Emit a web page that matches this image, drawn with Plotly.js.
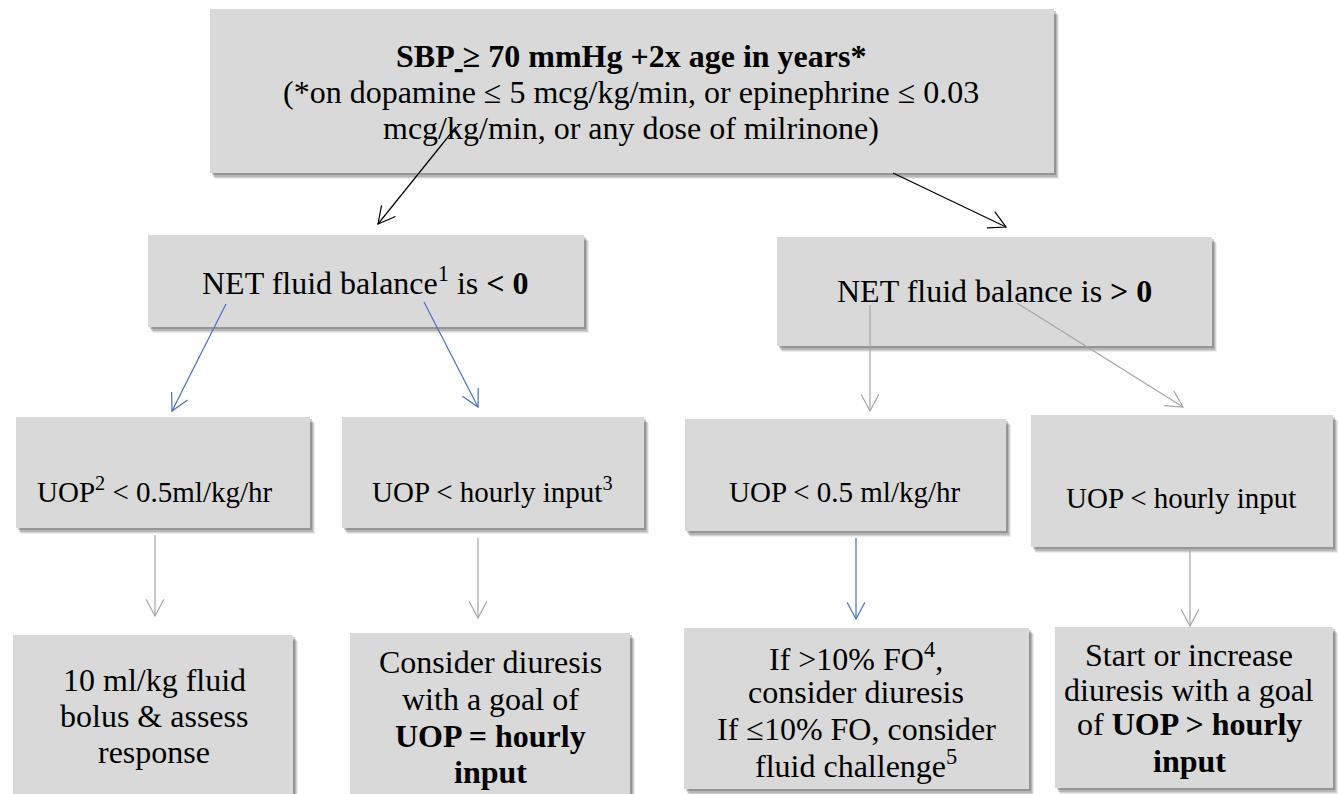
<!DOCTYPE html>
<html>
<head>
<meta charset="utf-8">
<script src="https://cdn.plot.ly/plotly-3.0.1.min.js"></script>
<style>
html,body{margin:0;padding:0;background:#ffffff;}
#chart{width:1338px;height:794px;}
</style>
</head>
<body>
<div id="chart"></div>
<script>
// ---- Flowchart content (text of each box, one entry per line) ----
const topBoxLines = [
  "<b>SBP<u>&nbsp;</u>≥ 70 mmHg +2x age in years*</b>",
  "(*on dopamine ≤ 5 mcg/kg/min, or epinephrine ≤ 0.03",
  "mcg/kg/min, or any dose of milrinone)"
];
const netNegativeLines = ["NET fluid balance<sup>1</sup> is <b>&lt; 0</b>"];
const netPositiveLines = ["NET fluid balance is <b>&gt; 0</b>"];
const uopLowNegLines = ["UOP<sup>2</sup> &lt; 0.5ml/kg/hr"];
const uopInputNegLines = ["UOP &lt; hourly input<sup>3</sup>"];
const uopLowPosLines = ["UOP &lt; 0.5 ml/kg/hr"];
const uopInputPosLines = ["UOP &lt; hourly input"];
const bolusLines = ["10 ml/kg fluid", "bolus &amp; assess", "response"];
const diuresisEqLines = ["Consider diuresis", "with a goal of", "<b>UOP = hourly</b>", "<b>input</b>"];
const foLines = ["If &gt;10% FO<sup>4</sup>,", "consider diuresis", "If ≤10% FO, consider", "fluid challenge<sup>5</sup>"];
const diuresisGtLines = ["Start or increase", "diuresis with a goal", "of <b>UOP &gt; hourly</b>", "<b>input</b>"];

// Connections: [from box, to box, colour key]
const edgeFrom = ["top", "top", "neg", "neg", "pos", "pos", "uopLowNeg", "uopInputNeg", "uopLowPos", "uopInputPos"];
const edgeTo   = ["neg", "pos", "uopLowNeg", "uopInputNeg", "uopLowPos", "uopInputPos", "bolus", "diuresisEq", "fo", "diuresisGt"];
const edgeKind = ["black", "black", "blue", "blue", "gray", "gray", "gray", "gray", "blue", "gray"];

// ---- Layout geometry (pixel space of the 1338x794 canvas) ----
const boxes = {
  top:         {lines: topBoxLines,      rect: [210, 9, 1054, 173],  tx: 631, ty: [56, 92, 128], size: 32},
  neg:         {lines: netNegativeLines, rect: [148, 235, 584, 327], tx: 365, ty: [281], size: 32},
  pos:         {lines: netPositiveLines, rect: [777, 237, 1212, 346], tx: 994, ty: [291], size: 32},
  uopLowNeg:   {lines: uopLowNegLines,   rect: [16, 417, 310, 528],  tx: 154, ty: [490], size: 29},
  uopInputNeg: {lines: uopInputNegLines, rect: [342, 417, 644, 528], tx: 492, ty: [490], size: 29},
  uopLowPos:   {lines: uopLowPosLines,   rect: [685, 419, 1006, 531], tx: 845, ty: [492], size: 29},
  uopInputPos: {lines: uopInputPosLines, rect: [1031, 415, 1333, 547], tx: 1181, ty: [498], size: 29},
  bolus:       {lines: bolusLines,       rect: [13, 635, 293, 830],  tx: 154, ty: [680, 716, 752], size: 32},
  diuresisEq:  {lines: diuresisEqLines,  rect: [350, 633, 630, 830], tx: 490, ty: [662, 699, 736, 772], size: 32},
  fo:          {lines: foLines,          rect: [684, 628, 1029, 789], tx: 856, ty: [657, 692, 729, 764], size: 32},
  diuresisGt:  {lines: diuresisGtLines,  rect: [1055, 627, 1333, 788], tx: 1189, ty: [655, 690, 724, 761], size: 32}
};
// arrow start / end points for each connection, same order as edgeFrom
const edgeGeom = [
  [456, 127, 378, 224],
  [893, 173, 1006, 227],
  [226, 304, 172, 411],
  [424, 302, 478, 407],
  [870, 305, 870, 411],
  [1017, 303, 1183, 407],
  [155, 535, 155, 616],
  [478, 538, 478, 618],
  [856, 538, 856, 619],
  [1190, 548, 1190, 626]
];
const colours = {black: "#000000", blue: "#4472c4", gray: "#a6a6a6"};

const shapes = [];
const annotations = [];

// shadows + boxes
Object.keys(boxes).forEach(k => {
  const [x0, y0, x1, y1] = boxes[k].rect;
  [[5, 6, 0.07], [4, 5, 0.10], [3, 4, 0.14], [2, 2, 0.18]].forEach(([dx, dy, a]) => {
    shapes.push({type: "rect", xref: "x", yref: "y", x0: x0 + dx, y0: y0 + dy, x1: x1 + dx, y1: y1 + dy,
      fillcolor: `rgba(0,0,0,${a})`, line: {width: 0}, layer: "below"});
  });
  shapes.push({type: "rect", xref: "x", yref: "y", x0, y0, x1, y1,
    fillcolor: "#d9d9d9", line: {width: 0}, layer: "below"});
  boxes[k].lines.forEach((t, i) => {
    annotations.push({x: boxes[k].tx, y: boxes[k].ty[i], xref: "x", yref: "y", text: t, showarrow: false,
      xanchor: "center", yanchor: "middle",
      font: {family: "Liberation Serif", size: boxes[k].size, color: "#000"}});
  });
});

// arrows (drawn above boxes)
function addArrow(x0, y0, x1, y1, color) {
  const L = 19, a = 28 * Math.PI / 180;
  const dx = x0 - x1, dy = y0 - y1, len = Math.hypot(dx, dy);
  const ux = dx / len, uy = dy / len;
  const c = Math.cos(a), s = Math.sin(a);
  const w1 = [x1 + L * (ux * c - uy * s), y1 + L * (ux * s + uy * c)];
  const w2 = [x1 + L * (ux * c + uy * s), y1 + L * (-ux * s + uy * c)];
  shapes.push({type: "line", xref: "x", yref: "y", x0, y0, x1, y1, line: {color, width: 1.2}, layer: "above"});
  shapes.push({type: "path", xref: "x", yref: "y", path: `M${w1[0]},${w1[1]} L${x1},${y1} L${w2[0]},${w2[1]}`,
    line: {color, width: 1.2}, layer: "above"});
}
edgeGeom.forEach((g, i) => addArrow(g[0], g[1], g[2], g[3], colours[edgeKind[i]]));

const layout = {
  width: 1338, height: 794,
  margin: {l: 0, r: 0, t: 0, b: 0, pad: 0},
  paper_bgcolor: "#ffffff", plot_bgcolor: "#ffffff",
  xaxis: {range: [0, 1338], visible: false, showgrid: false, zeroline: false, fixedrange: true},
  yaxis: {range: [794, 0], visible: false, showgrid: false, zeroline: false, fixedrange: true},
  showlegend: false,
  shapes, annotations
};
Plotly.newPlot("chart", [{x: [], y: [], type: "scatter", mode: "markers", hoverinfo: "skip"}], layout,
  {displayModeBar: false, staticPlot: true});
</script>
</body>
</html>
